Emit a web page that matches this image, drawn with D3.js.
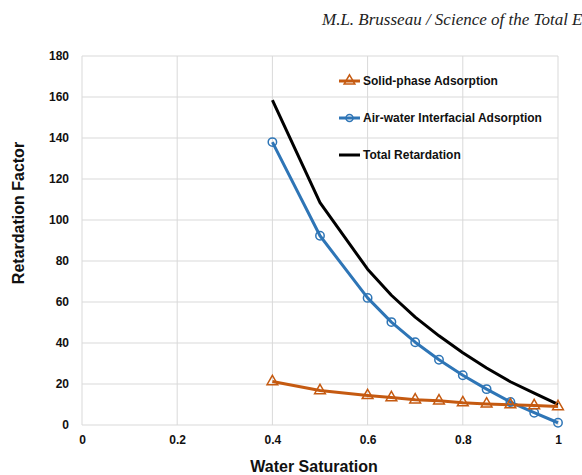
<!DOCTYPE html>
<html><head><meta charset="utf-8">
<script src="https://cdn.jsdelivr.net/npm/d3@7"></script>
<style>body{margin:0;background:#fff;} svg{display:block;}</style>
</head><body>
<svg id="c" width="582" height="475"></svg>
<script>
const saturation = [0.4, 0.5, 0.6, 0.65, 0.7, 0.75, 0.8, 0.85, 0.9, 0.95, 1.0];
const solidPhase = [21.2, 16.8, 14.4, 13.4, 12.3, 11.8, 10.9, 10.3, 9.9, 9.5, 9.0];
const airWater   = [138, 92.3, 62, 50.2, 40.4, 31.8, 24.3, 17.5, 11.2, 6.0, 1.1];
const totalRet   = [158.5, 108.5, 76, 63.3, 52.6, 43.5, 35.2, 27.8, 21.1, 15.5, 10.1];
const xTicks = [0, 0.2, 0.4, 0.6, 0.8, 1];
const yTicks = [0, 20, 40, 60, 80, 100, 120, 140, 160, 180];
const seriesNames = ["Solid-phase Adsorption", "Air-water Interfacial Adsorption", "Total Retardation"];

const svg = d3.select("#c");
const x = d3.scaleLinear().domain([0, 1]).range([82, 558]);
const y = d3.scaleLinear().domain([0, 180]).range([425, 56]);
const orange = "#C55A11", blue = "#2E75B6";

svg.append("text").attr("x", 322).attr("y", 25)
  .attr("font-family", "Liberation Serif, serif").attr("font-style", "italic")
  .attr("font-size", 17).attr("fill", "#222")
  .text("M.L. Brusseau / Science of the Total E");

// grid
const g = svg.append("g");
g.selectAll(".hg").data(yTicks).enter().append("line")
  .attr("x1", x(0)).attr("x2", x(1)).attr("y1", d => y(d)).attr("y2", d => y(d))
  .attr("stroke", "#d9d9d9").attr("stroke-width", 1);
g.selectAll(".vg").data(xTicks).enter().append("line")
  .attr("y1", y(0)).attr("y2", y(180)).attr("x1", d => x(d)).attr("x2", d => x(d))
  .attr("stroke", "#d9d9d9").attr("stroke-width", 1);

// axes (labels only)
const yAxis = svg.append("g").attr("transform", `translate(${x(0)},0)`)
  .call(d3.axisLeft(y).tickValues(yTicks).tickSize(0).tickPadding(13).tickFormat(d3.format("d")));
const xAxis = svg.append("g").attr("transform", `translate(0,${y(0)})`)
  .call(d3.axisBottom(x).tickValues(xTicks).tickSize(0).tickPadding(10).tickFormat(d => d === 0 || d === 1 ? d3.format("d")(d) : d3.format(".1f")(d)));
[yAxis, xAxis].forEach(a => {
  a.select(".domain").remove();
  a.selectAll("text").attr("font-family", "Liberation Sans, Arial, sans-serif")
    .attr("font-weight", "bold").attr("font-size", 12).attr("fill", "#111");
});

svg.append("text").attr("x", 314).attr("y", 472).attr("text-anchor", "middle")
  .attr("font-family", "Liberation Sans, Arial, sans-serif").attr("font-weight", "bold")
  .attr("font-size", 16).attr("fill", "#111").text("Water Saturation");
svg.append("text").attr("transform", "translate(24,213) rotate(-90)").attr("text-anchor", "middle")
  .attr("font-family", "Liberation Sans, Arial, sans-serif").attr("font-weight", "bold")
  .attr("font-size", 16).attr("fill", "#111").text("Retardation Factor");

const lineLin = arr => d3.line().x((d, i) => x(saturation[i])).y(d => y(d))(arr);

svg.append("path").attr("d", lineLin(totalRet)).attr("fill", "none").attr("stroke", "#000").attr("stroke-width", 3).attr("stroke-linejoin", "round");
svg.append("path").attr("d", lineLin(airWater)).attr("fill", "none").attr("stroke", blue).attr("stroke-width", 3).attr("stroke-linejoin", "round");
svg.append("path").attr("d", lineLin(solidPhase)).attr("fill", "none").attr("stroke", orange).attr("stroke-width", 3).attr("stroke-linejoin", "round");

svg.selectAll(".cir").data(airWater).enter().append("circle")
  .attr("cx", (d, i) => x(saturation[i])).attr("cy", d => y(d)).attr("r", 4.2)
  .attr("fill", "none").attr("stroke", blue).attr("stroke-width", 1.5);
const tri = d3.symbol().type(d3.symbolTriangle).size(50);
svg.selectAll(".tri").data(solidPhase).enter().append("path")
  .attr("d", tri).attr("transform", (d, i) => `translate(${x(saturation[i])},${y(d)})`)
  .attr("fill", "none").attr("stroke", orange).attr("stroke-width", 1.5);

// legend
const leg = svg.append("g");
const legY = [81, 118, 155];
const legColors = [orange, blue, "#000"];
seriesNames.forEach((n, i) => {
  leg.append("line").attr("x1", 339).attr("x2", 360).attr("y1", legY[i]).attr("y2", legY[i])
    .attr("stroke", legColors[i]).attr("stroke-width", 3);
  if (i === 0) leg.append("path").attr("d", tri).attr("transform", `translate(349.5,${legY[i]})`)
    .attr("fill", "none").attr("stroke", orange).attr("stroke-width", 1.5);
  if (i === 1) leg.append("circle").attr("cx", 349.5).attr("cy", legY[i]).attr("r", 3.5)
    .attr("fill", "none").attr("stroke", blue).attr("stroke-width", 1.5);
  leg.append("text").attr("x", 363).attr("y", legY[i] + 4)
    .attr("font-family", "Liberation Sans, Arial, sans-serif").attr("font-weight", "bold")
    .attr("font-size", 12).attr("fill", "#111").text(n);
});
</script>
</body></html>
